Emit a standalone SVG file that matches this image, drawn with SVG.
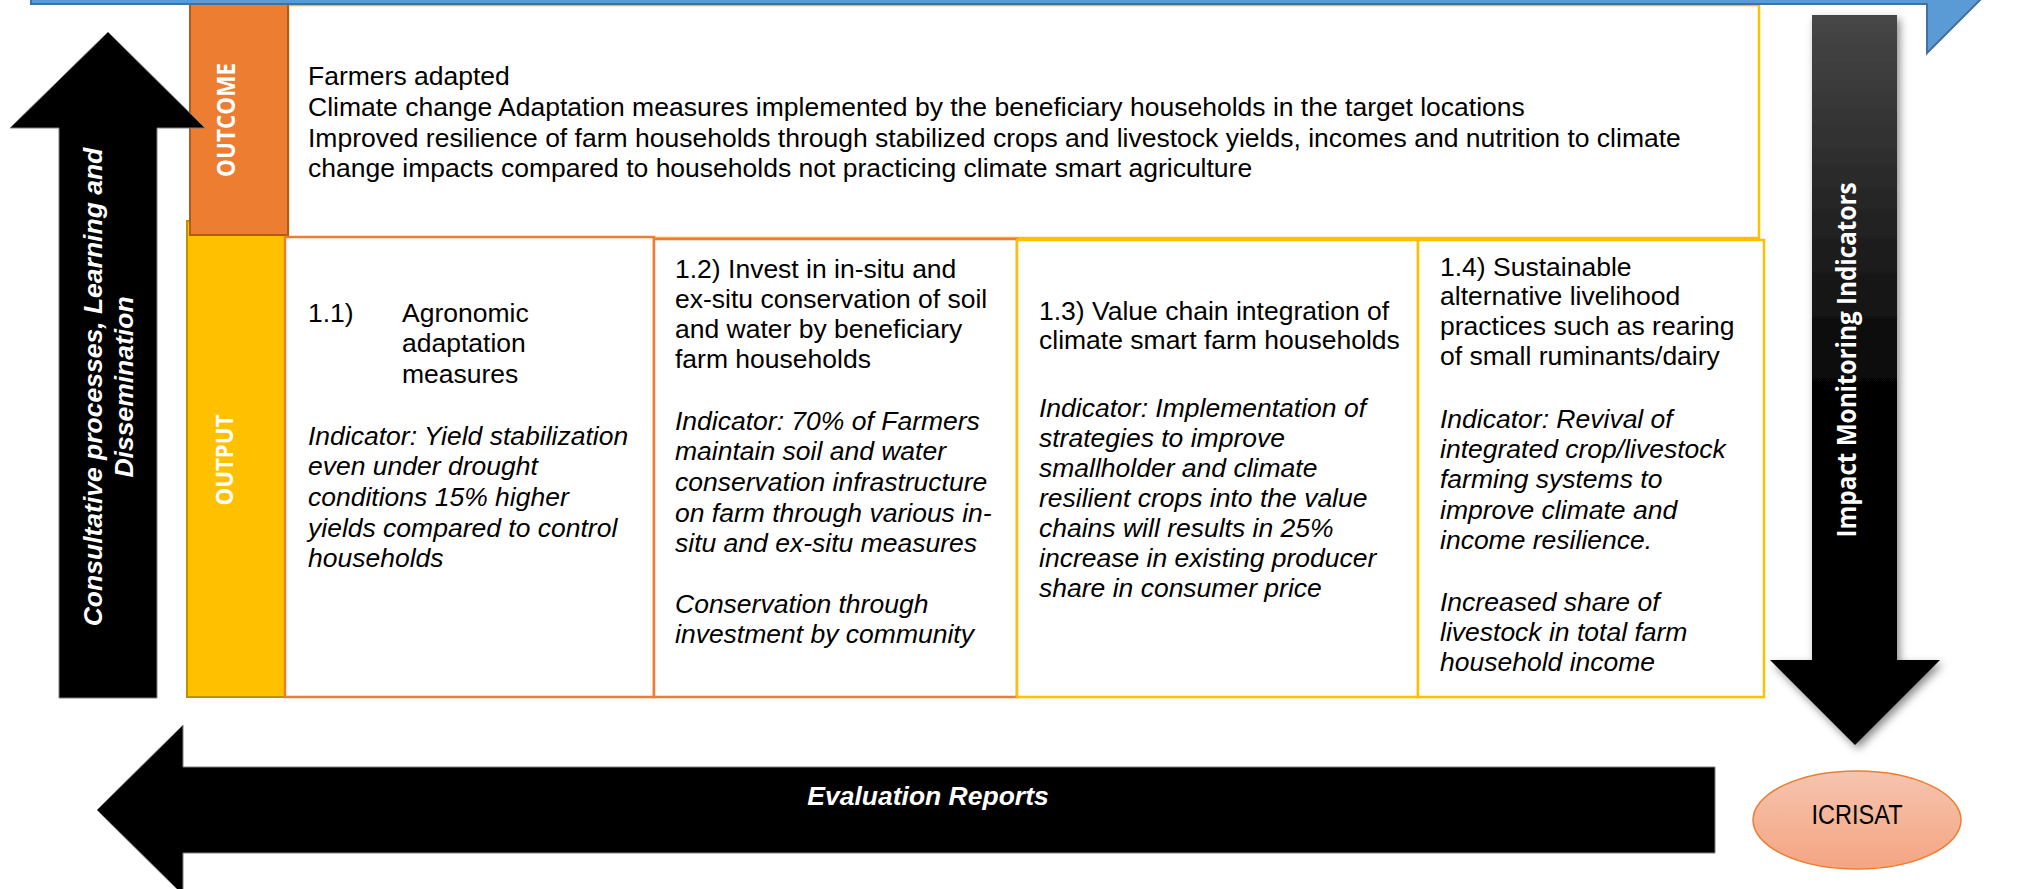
<svg xmlns="http://www.w3.org/2000/svg" width="2019" height="889" viewBox="0 0 2019 889">
<style>
.t{font-family:"Liberation Sans",Arial,sans-serif;font-size:26.5px;fill:#000}
.i{font-style:italic}
.bi{font-family:"Liberation Sans",Arial,sans-serif;font-size:26.5px;font-weight:bold;font-style:italic;fill:#fff}
.lab{font-family:"Open Sans","Liberation Sans",sans-serif;font-weight:bold;fill:#fff}
.box{fill:#fff;stroke-width:2.5}
.org{stroke:#ED7D31}
.yel{stroke:#FFC000}
.blk{fill:#000;stroke:#7F7F7F;stroke-width:1}
</style>
<defs>
<linearGradient id="gDown" gradientUnits="userSpaceOnUse" x1="0" y1="15" x2="0" y2="745">
<stop offset="0" stop-color="#474747"/>
<stop offset="0.55" stop-color="#000"/>
<stop offset="1" stop-color="#000"/>
</linearGradient>
<linearGradient id="gEll" x1="0" y1="0" x2="0" y2="1">
<stop offset="0" stop-color="#F6C4AE"/>
<stop offset="1" stop-color="#F4A583"/>
</linearGradient>
<filter id="sh" x="-20%" y="-10%" width="150%" height="130%">
<feDropShadow dx="3" dy="4" stdDeviation="4" flood-color="#000" flood-opacity="0.45"/>
</filter>
</defs>
<rect width="2019" height="889" fill="#fff"/>

<g id="outcome-box">
<rect class="box yel" x="288" y="5" width="1471" height="233"/>
<text class="t" x="308" y="85">Farmers adapted</text>
<text class="t" x="308" y="116">Climate change Adaptation measures implemented by the beneficiary households in the target locations</text>
<text class="t" x="308" y="147">Improved resilience of farm households through stabilized crops and livestock yields, incomes and nutrition to climate</text>
<text class="t" x="308" y="177">change impacts compared to households not practicing climate smart agriculture</text>
</g>

<g id="output-bar">
<rect x="187" y="221" width="98" height="476" fill="#FFC000" stroke="#BF9000" stroke-width="2"/>
<text class="lab" font-size="24" transform="translate(233,460) rotate(-90)" text-anchor="middle" textLength="91" lengthAdjust="spacingAndGlyphs">OUTPUT</text>
</g>

<g id="outcome-bar">
<rect x="190" y="4" width="98" height="231" fill="#ED7D31" stroke="#AE5A21" stroke-width="2"/>
<text class="lab" font-size="25" transform="translate(235,120) rotate(-90)" text-anchor="middle" textLength="114" lengthAdjust="spacingAndGlyphs">OUTCOME</text>
</g>

<g id="output-1-1">
<rect class="box org" x="285" y="237" width="369" height="460"/>
<text class="t" x="308" y="322">1.1)</text>
<text class="t" x="402" y="322">Agronomic</text>
<text class="t" x="402" y="352">adaptation</text>
<text class="t" x="402" y="383">measures</text>
<text class="t i" x="308" y="445">Indicator: Yield stabilization</text>
<text class="t i" x="308" y="475">even under drought</text>
<text class="t i" x="308" y="506">conditions 15% higher</text>
<text class="t i" x="308" y="537">yields compared to control</text>
<text class="t i" x="308" y="567">households</text>
</g>

<g id="output-1-2">
<rect class="box org" x="654" y="239" width="363" height="458"/>
<text class="t" x="675" y="278">1.2) Invest in in-situ and</text>
<text class="t" x="675" y="308">ex-situ conservation of soil</text>
<text class="t" x="675" y="338">and water by beneficiary</text>
<text class="t" x="675" y="368">farm households</text>
<text class="t i" x="675" y="430">Indicator: 70% of Farmers</text>
<text class="t i" x="675" y="460">maintain soil and water</text>
<text class="t i" x="675" y="491">conservation infrastructure</text>
<text class="t i" x="675" y="522">on farm through various in-</text>
<text class="t i" x="675" y="552">situ and ex-situ measures</text>
<text class="t i" x="675" y="613">Conservation through</text>
<text class="t i" x="675" y="643">investment by community</text>
</g>

<g id="output-1-3">
<rect class="box yel" x="1017" y="240" width="401" height="457"/>
<text class="t" x="1039" y="320">1.3) Value chain integration of</text>
<text class="t" x="1039" y="349">climate smart farm households</text>
<text class="t i" x="1039" y="417">Indicator: Implementation of</text>
<text class="t i" x="1039" y="447">strategies to improve</text>
<text class="t i" x="1039" y="477">smallholder and climate</text>
<text class="t i" x="1039" y="507">resilient crops into the value</text>
<text class="t i" x="1039" y="537">chains will results in 25%</text>
<text class="t i" x="1039" y="567">increase in existing producer</text>
<text class="t i" x="1039" y="597">share in consumer price</text>
</g>

<g id="output-1-4">
<rect class="box yel" x="1418" y="240" width="346" height="457"/>
<text class="t" x="1440" y="276">1.4) Sustainable</text>
<text class="t" x="1440" y="305">alternative livelihood</text>
<text class="t" x="1440" y="335">practices such as rearing</text>
<text class="t" x="1440" y="365">of small ruminants/dairy</text>
<text class="t i" x="1440" y="428">Indicator: Revival of</text>
<text class="t i" x="1440" y="458">integrated crop/livestock</text>
<text class="t i" x="1440" y="488">farming systems to</text>
<text class="t i" x="1440" y="519">improve climate and</text>
<text class="t i" x="1440" y="549">income resilience.</text>
<text class="t i" x="1440" y="611">Increased share of</text>
<text class="t i" x="1440" y="641">livestock in total farm</text>
<text class="t i" x="1440" y="671">household income</text>
</g>

<g id="connectors">
<g id="top-arrow">
<polygon points="31,-40 1927,-40 1927,-89 1998,-18 1927,53 1927,4 31,4" fill="#5B9BD5" stroke="#41719C" stroke-width="2"/>
</g>
<g id="consultative-arrow">
<polygon class="blk" points="108,32 205,128 157,128 157,698 59,698 59,128 10,128"/>
<text class="bi" transform="translate(102,387) rotate(-90)" text-anchor="middle">Consultative processes, Learning and</text>
<text class="bi" transform="translate(133,387) rotate(-90)" text-anchor="middle">Dissemination</text>
</g>
<g id="impact-arrow">
<polygon points="1812,15 1897,15 1897,660 1940,660 1855,745 1770,660 1812,660" fill="url(#gDown)" filter="url(#sh)"/>
<text class="lab" font-size="26" transform="translate(1856,360) rotate(-90)" text-anchor="middle" textLength="355" lengthAdjust="spacingAndGlyphs">Impact Monitoring Indicators</text>
</g>
<g id="evaluation-arrow">
<polygon class="blk" points="1715,767 1715,853 183,853 183,895 97,810 183,725 183,767"/>
<text class="bi" x="928" y="805" text-anchor="middle">Evaluation Reports</text>
</g>
</g>

<g id="icrisat">
<ellipse cx="1857" cy="820" rx="104" ry="49" fill="url(#gEll)" stroke="#ED7D31" stroke-width="1.5"/>
<text x="1857" y="824" text-anchor="middle" font-family="'Liberation Sans',Arial,sans-serif" font-size="27" fill="#000" textLength="91" lengthAdjust="spacingAndGlyphs">ICRISAT</text>
</g>
</svg>
